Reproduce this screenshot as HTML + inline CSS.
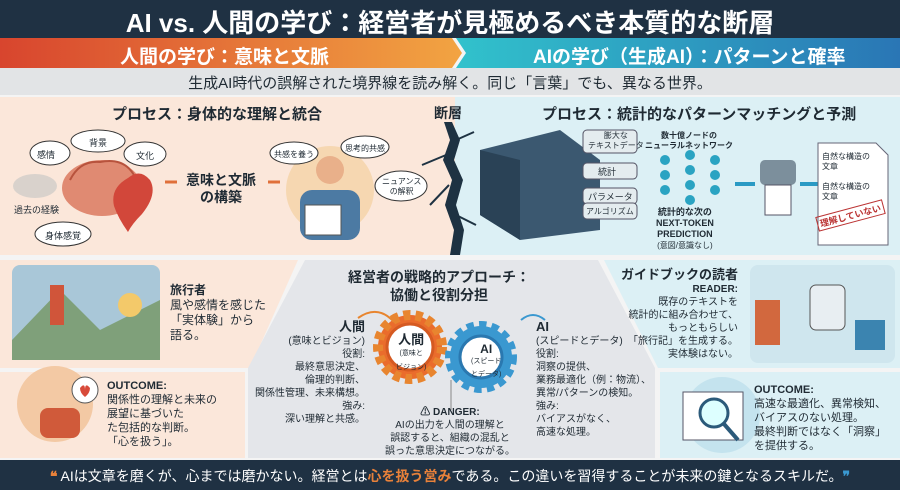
<!DOCTYPE html>
<html><head><meta charset="utf-8"><style>
*{margin:0;padding:0;box-sizing:border-box}
body{width:900px;height:490px;overflow:hidden;background:#f4f4f4;font-family:"Liberation Sans","Noto Sans CJK JP",sans-serif;position:relative;color:#1f2a33}
.a{position:absolute;white-space:nowrap}
.b{font-weight:bold}
</style></head><body>
<svg class="a" style="left:0;top:0" width="900" height="490">
<defs>
<linearGradient id="og" x1="0" x2="1"><stop offset="0" stop-color="#d8452e"/><stop offset="1" stop-color="#f2a442"/></linearGradient>
<linearGradient id="bg" x1="0" x2="1"><stop offset="0" stop-color="#31c2cc"/><stop offset="1" stop-color="#2a76b5"/></linearGradient>
</defs>
<rect x="0" y="0" width="900" height="38" fill="#1f3143"/>
<polygon points="0,38 452,38 462,53 452,68 0,68" fill="url(#og)"/>
<polygon points="456,38 900,38 900,68 456,68 466,53" fill="url(#bg)"/>
<rect x="0" y="68" width="900" height="27" fill="#e2e4e6"/>
<rect x="0" y="97" width="455" height="158" fill="#fbe7da"/>
<rect x="455" y="97" width="445" height="158" fill="#dcf0f5"/>
<path d="M444,122 L450,140 L443,160 L452,180 L445,205 L454,230 L450,255 L460,255 L464,230 L456,205 L463,180 L454,160 L460,140 L452,122Z" fill="#1e3242"/>
<path d="M446,155 L422,165 M449,185 L430,205 M456,215 L476,225 M456,140 L474,132" stroke="#1e3242" stroke-width="2"/>
<polygon points="0,260 298,260 250,368 0,368" fill="#fbe7da"/>
<polygon points="0,372 245,372 245,458 0,458" fill="#fbe7da"/>
<polygon points="305,260 598,260 655,368 655,458 248,458 248,368" fill="#e4e6ea"/>
<polygon points="604,260 900,260 900,368 658,368" fill="#dcf0f5"/>
<polygon points="660,372 900,372 900,458 660,458" fill="#dcf0f5"/>
<rect x="0" y="460" width="900" height="30" fill="#1f3143"/>
<ellipse cx="35" cy="186" rx="22" ry="12" fill="#d9d2cc"/>
<ellipse cx="102" cy="188" rx="40" ry="28" fill="#e08a72"/>
<path d="M70,180 q10,-20 30,-18 q25,-5 35,15" stroke="#b8533d" fill="none" stroke-width="2"/>
<path d="M128,178 q12,-10 22,2 q8,14 -8,34 q-10,10 -14,18 q-10,-14 -14,-26 q-4,-18 14,-28z" fill="#d2473a"/>
<ellipse cx="50" cy="153" rx="20" ry="12" fill="#fff" stroke="#333"/>
<ellipse cx="98" cy="141" rx="27" ry="11" fill="#fff" stroke="#333"/>
<ellipse cx="145" cy="154" rx="21" ry="12" fill="#fff" stroke="#333"/>
<ellipse cx="63" cy="234" rx="28" ry="12" fill="#fff" stroke="#333"/>
<path d="M165,182h12M268,182h12" stroke="#e0703a" stroke-width="3"/>
<circle cx="330" cy="190" r="44" fill="#f5d3a6" opacity=".8"/>
<rect x="300" y="190" width="60" height="50" rx="12" fill="#4c7aa3"/>
<circle cx="330" cy="170" r="14" fill="#e9b08a"/>
<rect x="305" y="205" width="36" height="30" fill="#fff" stroke="#555"/>
<ellipse cx="294" cy="153" rx="24" ry="11" fill="#fff" stroke="#333"/>
<ellipse cx="365" cy="147" rx="24" ry="11" fill="#fff" stroke="#333"/>
<ellipse cx="401" cy="186" rx="26" ry="15" fill="#fff" stroke="#333"/>
<polygon points="480,150 560,130 600,160 600,230 520,240 480,215" fill="#3b5870"/>
<polygon points="480,150 520,160 520,240 480,215" fill="#2a4256"/>
<rect x="583" y="130" width="54" height="23" rx="4" fill="#e4ecef" stroke="#556"/>
<rect x="583" y="163" width="54" height="16" rx="4" fill="#e4ecef" stroke="#556"/>
<rect x="583" y="188" width="54" height="16" rx="4" fill="#e4ecef" stroke="#556"/>
<rect x="583" y="203" width="54" height="16" rx="4" fill="#e4ecef" stroke="#556"/>
<g fill="#2aa3c2"><circle cx="665" cy="160" r="5"/><circle cx="665" cy="175" r="5"/><circle cx="665" cy="190" r="5"/><circle cx="690" cy="155" r="5"/><circle cx="690" cy="170" r="5"/><circle cx="690" cy="185" r="5"/><circle cx="690" cy="200" r="5"/><circle cx="715" cy="160" r="5"/><circle cx="715" cy="175" r="5"/><circle cx="715" cy="190" r="5"/></g>
<path d="M735,184h20M800,184h20" stroke="#2a9ac4" stroke-width="4"/>
<rect x="760" y="160" width="36" height="25" rx="5" fill="#7c8f9c"/>
<rect x="765" y="185" width="26" height="30" fill="#fff" stroke="#556"/>
<polygon points="818,143 876,143 888,155 888,245 818,245" fill="#fff" stroke="#667"/>
<rect x="12" y="265" width="148" height="95" rx="8" fill="#a9c7d8"/>
<polygon points="12,340 60,290 100,330 160,300 160,360 12,360" fill="#7fa07a"/>
<circle cx="130" cy="305" r="12" fill="#f3c96a"/>
<rect x="50" y="285" width="14" height="40" fill="#d0553a"/>
<circle cx="55" cy="404" r="38" fill="#f3c9a4"/>
<rect x="40" y="408" width="40" height="30" rx="8" fill="#d05a3a"/>
<circle cx="85" cy="390" r="13" fill="#fff" stroke="#555"/>
<path d="M80,388 q5,-6 5,2 q0,-8 5,-2 q0,5 -5,9 q-5,-4 -5,-9z" fill="#d84a3a"/>
<rect x="750" y="265" width="145" height="98" rx="8" fill="#cfe6ee"/>
<rect x="755" y="300" width="25" height="45" fill="#d2683e"/>
<rect x="855" y="320" width="30" height="30" fill="#3b84b0"/>
<rect x="810" y="285" width="35" height="45" rx="6" fill="#e8eef2" stroke="#555"/>
<circle cx="722" cy="415" r="38" fill="#c4e3ee"/>
<rect x="683" y="392" width="60" height="48" fill="#fff" stroke="#556"/>
<circle cx="714" cy="413" r="14" fill="#dff" stroke="#2b5a7a" stroke-width="3"/>
<path d="M724,424l14,16" stroke="#2b5a7a" stroke-width="4"/>
<circle cx="410" cy="347" r="32" fill="#ea6c2c" stroke="#e8852f" stroke-width="10" stroke-dasharray="7 5"/>
<circle cx="410" cy="347" r="23" fill="#fff" stroke="#d55a22" stroke-width="3"/>
<circle cx="481" cy="357" r="31" fill="#3a98d0" stroke="#3a98d0" stroke-width="10" stroke-dasharray="7 5"/>
<circle cx="481" cy="357" r="21" fill="#fff" stroke="#2a78b0" stroke-width="3"/>
<path d="M358,318 q20,-14 36,4" stroke="#e8852f" stroke-width="2" fill="none"/>
<path d="M545,320 q-12,-10 -24,0" stroke="#3a98d0" stroke-width="2" fill="none"/>
<path d="M451,380v30" stroke="#888" stroke-width="1"/>
</svg>

<div class="a b" style="left:0;width:900px;top:3px;text-align:center;font-size:26px;color:#fff">AI vs. 人間の学び：経営者が見極めるべき本質的な断層</div>
<div class="a b" style="left:120px;top:42px;font-size:19px;color:#fff">人間の学び：意味と文脈</div>
<div class="a b" style="left:533px;top:42px;font-size:19px;color:#fff">AIの学び（生成AI）：パターンと確率</div>
<div class="a" style="left:0;width:900px;top:72px;text-align:center;font-size:15px">生成AI時代の誤解された境界線を読み解く。同じ「言葉」でも、異なる世界。</div>

<div class="a b" style="left:112px;top:103px;font-size:15px">プロセス：身体的な理解と統合</div>
<div class="a b" style="left:434px;top:103px;font-size:14px">断層</div>
<div class="a b" style="left:542px;top:103px;font-size:15px">プロセス：統計的なパターンマッチングと予測</div>
<div class="a" style="font-size:9px;left:37px;top:148px">感情</div>
<div class="a" style="font-size:9px;left:89px;top:136px">背景</div>
<div class="a" style="font-size:9px;left:136px;top:149px">文化</div>
<div class="a" style="font-size:9px;left:14px;top:203px">過去の経験</div>
<div class="a" style="font-size:9px;left:45px;top:229px">身体感覚</div>
<div class="a b" style="font-size:14px;left:186px;top:172px;line-height:17px;text-align:center">意味と文脈<br>の構築</div>
<div class="a" style="font-size:8px;left:274px;top:149px">共感を養う</div>
<div class="a" style="font-size:8px;left:345px;top:143px">思考的共感</div>
<div class="a" style="font-size:8px;left:382px;top:177px;text-align:center;line-height:10px">ニュアンス<br>の解釈</div>
<div class="a" style="font-size:8px;left:588px;top:131px;text-align:center;line-height:10px">膨大な<br>テキストデータ</div>
<div class="a" style="font-size:9px;left:598px;top:165px">統計</div>
<div class="a" style="font-size:9px;left:588px;top:190px">パラメータ</div>
<div class="a" style="font-size:8px;left:586px;top:206px">アルゴリズム</div>
<div class="a b" style="font-size:8px;left:645px;top:131px;text-align:center;line-height:10px">数十億ノードの<br>ニューラルネットワーク</div>
<div class="a b" style="font-size:9px;left:656px;top:207px;text-align:center;line-height:11px">統計的な次の<br>NEXT-TOKEN<br>PREDICTION<br><span style="font-weight:normal;font-size:8px">(意図/意識なし)</span></div>
<div class="a" style="font-size:8px;left:822px;top:152px;line-height:10px">自然な構造の<br>文章<br><br>自然な構造の<br>文章</div>
<div class="a b" style="font-size:9px;left:816px;top:208px;color:#b33;border:1px solid #b33;transform:rotate(-15deg);padding:0 2px">理解していない</div>

<div class="a b" style="font-size:12px;left:170px;top:283px;line-height:15px">旅行者<br><span style="font-weight:normal">風や感情を感じた<br>「実体験」から<br>語る。</span></div>
<div class="a" style="font-size:11px;left:107px;top:379px;line-height:14px"><b>OUTCOME:</b><br>関係性の理解と未来の<br>展望に基づいた<br>た包括的な判断。<br>「心を扱う」。</div>
<div class="a b" style="font-size:14px;left:348px;top:268px;text-align:center;line-height:18px">経営者の戦略的アプローチ：<br>協働と役割分担</div>
<div class="a" style="font-size:10px;right:535px;top:320px;text-align:right;line-height:13px"><b style="font-size:13px">人間</b><br>(意味とビジョン)<br>役割:<br>最終意思決定、<br>倫理的判断、<br>関係性管理、未来構想。<br>強み:<br>深い理解と共感。</div>
<div class="a b" style="font-size:13px;left:396px;top:334px;text-align:center;line-height:11px">人間<br><span style="font-size:7px;font-weight:normal">(意味と<br>ビジョン)</span></div>
<div class="a b" style="font-size:12px;left:471px;top:344px;text-align:center;line-height:10px">AI<br><span style="font-size:7px;font-weight:normal">(スピード<br>とデータ)</span></div>
<div class="a" style="font-size:10px;left:536px;top:320px;line-height:13px"><b style="font-size:13px">AI</b><br>(スピードとデータ)<br>役割:<br>洞察の提供、<br>業務最適化（例：物流）、<br>異常/パターンの検知。<br>強み:<br>バイアスがなく、<br>高速な処理。</div>
<div class="a" style="font-size:10px;left:385px;top:406px;text-align:center;line-height:13px"><b>⚠ DANGER:</b><br>AIの出力を人間の理解と<br>誤認すると、組織の混乱と<br>誤った意思決定につながる。</div>
<div class="a" style="font-size:10px;right:162px;top:268px;text-align:right;line-height:13px"><b style="font-size:13px">ガイドブックの読者</b><br><b>READER:</b><br>既存のテキストを<br>統計的に組み合わせて、<br>もっともらしい<br>「旅行記」を生成する。<br>実体験はない。</div>
<div class="a" style="font-size:11px;left:754px;top:383px;line-height:14px"><b>OUTCOME:</b><br>高速な最適化、異常検知、<br>バイアスのない処理。<br>最終判断ではなく「洞察」<br>を提供する。</div>
<div class="a" style="left:0;width:900px;top:466px;text-align:center;font-size:14px;color:#fff"><b style="color:#e8813a">❝</b> AIは文章を磨くが、心までは磨かない。経営とは<b style="color:#e8813a">心を扱う営み</b>である。この違いを習得することが未来の鍵となるスキルだ。<b style="color:#3a98d0">❞</b></div>
</body></html>
